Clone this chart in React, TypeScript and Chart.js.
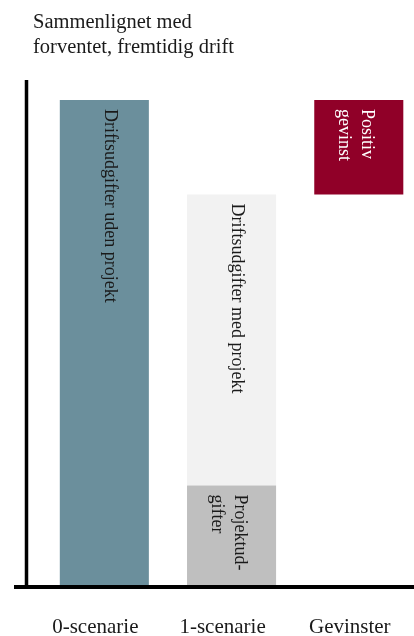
import React, { useEffect, useRef } from 'react';
import { Chart, registerables } from 'chart.js';

Chart.register(...registerables);

const categories = ['0-scenarie', '1-scenarie', 'Gevinster'];
const titleLines = ['Sammenlignet med', 'forventet, fremtidig drift'];

// Values as [from, to] ranges per category (null where the series has no bar)
const driftUdenProjekt = [[0, 100], null, null];
const projektudgifter = [null, [0, 20.5], null];
const driftMedProjekt = [null, [20.5, 80.5], null];
const positivGevinst = [null, null, [80.5, 100]];

const seriesNames = ['Driftsudgifter uden projekt', 'Projektudgifter', 'Driftsudgifter med projekt', 'Positiv gevinst'];
const barTexts = [
  ['Driftsudgifter uden projekt'],
  ['Projektud-', 'gifter'],
  ['Driftsudgifter med projekt'],
  ['Positiv', 'gevinst'],
];
const barColors = ['#6b8f9c', '#bfbfbf', '#f2f2f2', '#900028'];
const textColors = ['#1a1a1a', '#1a1a1a', '#1a1a1a', '#ffffff'];

const FONT = '"Liberation Serif", "DejaVu Serif", serif';

const toPoints = (arr: (number[] | null)[]) =>
  arr.map((v, i) => (v ? { x: i, y: v } : null)).filter((p) => p !== null);

const barTextPlugin = {
  id: 'barText',
  afterDatasetsDraw(chart: any) {
    const ctx = chart.ctx;
    chart.data.datasets.forEach((_: any, di: number) => {
      const meta = chart.getDatasetMeta(di);
      const el = meta.data[0];
      if (!el) return;
      const lines = barTexts[di];
      const top = Math.min(el.y, el.base);
      const n = lines.length;
      ctx.save();
      ctx.font = `18px ${FONT}`;
      ctx.fillStyle = textColors[di];
      ctx.textAlign = 'left';
      ctx.textBaseline = 'middle';
      lines.forEach((line: string, li: number) => {
        const cx = el.x + 5 + (n - 1) * 3 - li * 23;
        ctx.save();
        ctx.translate(cx, top + 9);
        ctx.rotate(Math.PI / 2);
        ctx.fillText(line, 0, 0);
        ctx.restore();
      });
      ctx.restore();
    });
  },
};

const framePlugin = {
  id: 'frame',
  afterDraw(chart: any) {
    const ctx = chart.ctx;
    const { left, top, bottom, right } = chart.chartArea;
    ctx.save();
    ctx.strokeStyle = '#000';
    ctx.lineWidth = 3.5;
    ctx.beginPath();
    ctx.moveTo(left - 1.5, top);
    ctx.lineTo(left - 1.5, bottom + 3.5);
    ctx.stroke();
    ctx.lineWidth = 4;
    ctx.beginPath();
    ctx.moveTo(left - 14, bottom + 2);
    ctx.lineTo(right, bottom + 2);
    ctx.stroke();
    // title
    ctx.fillStyle = '#1a1a1a';
    ctx.font = `20.5px ${FONT}`;
    ctx.textAlign = 'left';
    ctx.textBaseline = 'alphabetic';
    titleLines.forEach((t, i) => {
      ctx.fillText(t, left + 5, 28 + i * 24.5);
    });
    ctx.restore();
  },
};

export default function App() {
  const ref = useRef<HTMLCanvasElement | null>(null);
  useEffect(() => {
    if (!ref.current) return;
    const series = [driftUdenProjekt, projektudgifter, driftMedProjekt, positivGevinst];
    const chart = new Chart(ref.current, {
      type: 'bar',
      data: {
        datasets: series.map((s, i) => ({
          label: seriesNames[i],
          data: toPoints(s) as any,
          backgroundColor: barColors[i],
          borderWidth: 0,
          grouped: false,
          barPercentage: 0.7,
          categoryPercentage: 1,
        })),
      },
      options: {
        animation: false,
        responsive: true,
        maintainAspectRatio: false,
        layout: { padding: { left: 28, top: 80, right: 0, bottom: 0 } },
        plugins: { legend: { display: false }, tooltip: { enabled: false }, title: { display: false } },
        scales: {
          x: {
            type: 'linear',
            min: -0.6,
            max: 2.434,
            offset: false,
            grid: { display: false, offset: false },
            border: { display: false },
            afterBuildTicks: (scale: any) => {
              scale.ticks = categories.map((_, i) => ({ value: i }));
            },
            afterFit: (scale: any) => {
              scale.height = 51;
              scale.paddingLeft = 0;
              scale.paddingRight = 0;
            },
            ticks: {
              autoSkip: false,
              maxRotation: 0,
              padding: 22,
              labelOffset: -9,
              color: '#1a1a1a',
              font: { family: FONT, size: 21, lineHeight: 1.2 },
              callback: (v: any) => categories[v] ?? '',
            },
          },
          y: {
            display: false,
            min: 0,
            max: 104.1,
          },
        },
      },
      plugins: [barTextPlugin, framePlugin],
    });
    return () => chart.destroy();
  }, []);
  return (
    <div style={{ position: 'absolute', left: 0, top: 0, width: 414, height: 636, background: '#fff' }}>
      <canvas ref={ref} />
    </div>
  );
}
